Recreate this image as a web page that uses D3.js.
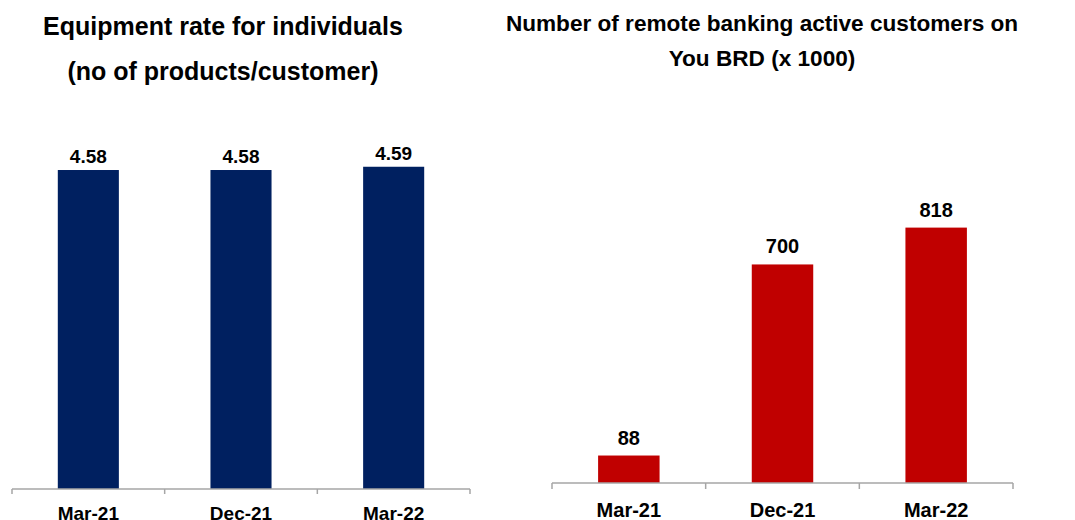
<!DOCTYPE html>
<html>
<head>
<meta charset="utf-8">
<script src="https://cdn.jsdelivr.net/npm/d3@7"></script>
<style>
  html, body { margin: 0; padding: 0; background: #fff; }
  svg { display: block; font-family: "Liberation Sans", Arial, sans-serif; }
</style>
</head>
<body>
<div id="container"></div>
<script>
const width = 1075, height = 520;

// Data
const periods = ["Mar-21", "Dec-21", "Mar-22"];
const equipmentRate = [4.58, 4.58, 4.59];
const remoteCustomers = [88, 700, 818];
const leftTitle = ["Equipment rate for individuals", "(no of products/customer)"];
const rightTitle = ["Number of remote banking active customers on", "You BRD (x 1000)"];

const svg = d3.select("#container").append("svg")
  .attr("width", width).attr("height", height);

const axisColor = "#a6a6a6";

// One panel: bars + value labels + category axis with boundary ticks
function panel(opts) {
  const { x0, x1, base, yScale, values, fill, fmt, valueSize, valueGap, catSize, catBaseline, tickLen } = opts;
  const g = svg.append("g");
  const x = d3.scaleBand().domain(periods).range([x0, x1])
    .paddingInner(0.6).paddingOuter(0.3);

  const data = periods.map((p, i) => ({ p, v: values[i] }));

  g.selectAll("rect.bar").data(data).join("rect")
    .attr("class", "bar")
    .attr("x", d => x(d.p))
    .attr("y", d => yScale(d.v))
    .attr("width", x.bandwidth())
    .attr("height", d => base - yScale(d.v))
    .attr("fill", fill);

  g.selectAll("text.val").data(data).join("text")
    .attr("class", "val")
    .attr("x", d => x(d.p) + x.bandwidth() / 2)
    .attr("y", d => yScale(d.v) - valueGap)
    .attr("text-anchor", "middle")
    .attr("fill", "#000")
    .style("font-size", valueSize + "px")
    .style("font-weight", "700")
    .text(d => fmt(d.v));

  // axis baseline and category boundary ticks
  g.append("line")
    .attr("x1", x0).attr("x2", x1).attr("y1", base).attr("y2", base)
    .attr("stroke", axisColor).attr("stroke-width", 1.5);
  const bounds = d3.range(periods.length + 1).map(i => x0 + i * x.step());
  g.selectAll("line.tick").data(bounds).join("line")
    .attr("class", "tick")
    .attr("x1", d => d).attr("x2", d => d)
    .attr("y1", base).attr("y2", base + tickLen)
    .attr("stroke", axisColor).attr("stroke-width", 1.5);

  const ax = g.append("g")
    .attr("transform", `translate(0,${base})`)
    .call(d3.axisBottom(x).tickSize(0));
  ax.select(".domain").remove();
  ax.selectAll("text")
    .attr("y", catBaseline - base).attr("dy", 0)
    .attr("fill", "#000")
    .style("font-family", "\"Liberation Sans\", Arial, sans-serif")
    .style("font-size", catSize + "px")
    .style("font-weight", "700");
}

// Left panel: equipment rate (value axis starts above zero)
const leftBase = 489;
const yLeft = d3.scaleLinear().domain([3.6, 4.6]).range([leftBase, leftBase - 325.5]);
panel({
  x0: 12, x1: 470, base: leftBase, yScale: yLeft, values: equipmentRate,
  fill: "#002060", fmt: d3.format(".2f"), valueSize: 19, valueGap: 7,
  catSize: 19, catBaseline: 520, tickLen: 5
});

// Right panel: remote banking customers
const rightBase = 483;
const yRight = d3.scaleLinear().domain([0, 900]).range([rightBase, rightBase - 281]);
panel({
  x0: 552, x1: 1013, base: rightBase, yScale: yRight, values: remoteCustomers,
  fill: "#c00000", fmt: d3.format("d"), valueSize: 20, valueGap: 11,
  catSize: 20, catBaseline: 517, tickLen: 6
});

// Titles
function title(lines, cx, ys, size) {
  svg.append("g").selectAll("text").data(lines).join("text")
    .attr("x", cx).attr("y", (d, i) => ys[i])
    .attr("text-anchor", "middle")
    .attr("fill", "#000")
    .style("font-size", size + "px")
    .style("font-weight", "700")
    .text(d => d);
}
title(leftTitle, 223, [35, 80], 25);
title(rightTitle, 762, [31, 66], 22.6);
</script>
</body>
</html>
